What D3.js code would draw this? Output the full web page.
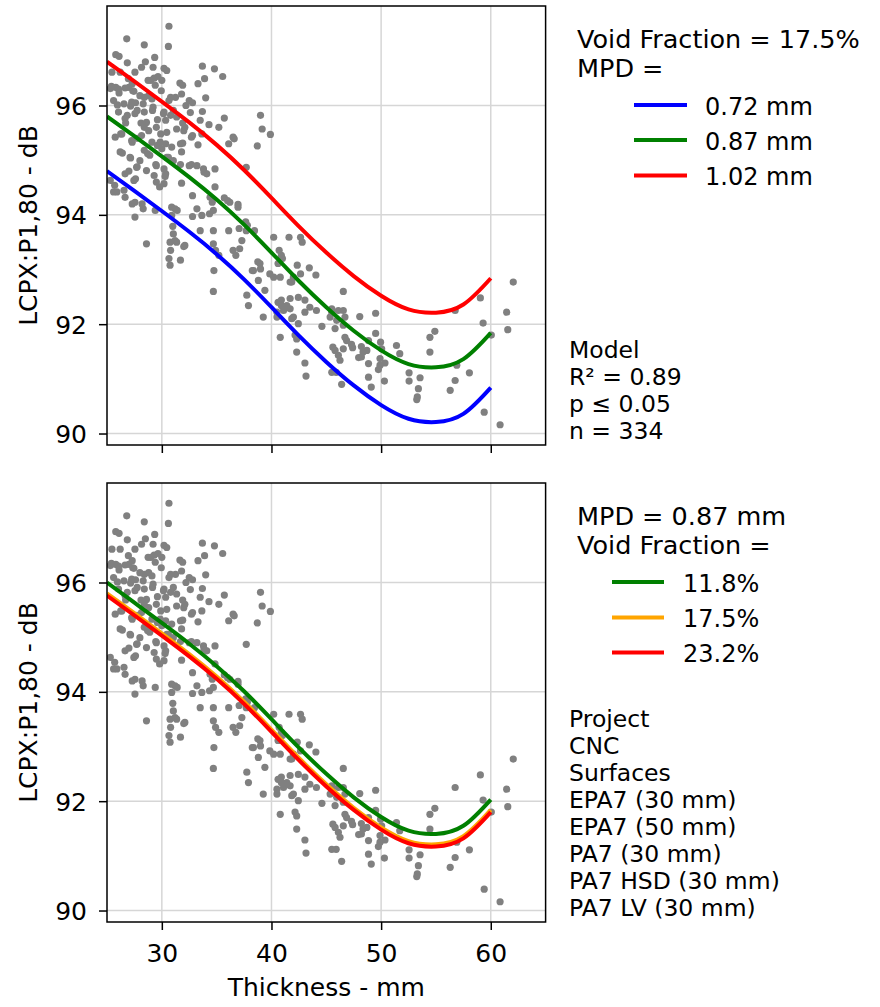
<!DOCTYPE html>
<html>
<head>
<meta charset="utf-8">
<script src="https://cdn.jsdelivr.net/npm/d3@7"></script>
<style>
  body { margin: 0; background: #fff; }
  svg text { font-family: "DejaVu Sans", sans-serif; fill: #000; }
</style>
</head>
<body>
<div id="chart"></div>
<script>

// model curves, sampled along thickness (mm)
var thickness = [25, 27.5, 30, 32.5, 35, 37.5, 40, 42.5, 45, 47.5, 50, 52.5, 55, 57.5, 60];

// top panel: void fraction 17.5 %, three MPD values
var mpd072 = [94.80, 94.44, 94.07, 93.69, 93.28, 92.82, 92.31, 91.79, 91.31, 90.88, 90.52, 90.27, 90.21, 90.36, 90.84];
var mpd087 = [95.80, 95.44, 95.07, 94.69, 94.28, 93.82, 93.31, 92.79, 92.31, 91.88, 91.52, 91.27, 91.21, 91.36, 91.84];
var mpd102 = [96.80, 96.44, 96.07, 95.69, 95.28, 94.82, 94.31, 93.79, 93.31, 92.88, 92.52, 92.27, 92.21, 92.36, 92.84];

// bottom panel: MPD 0.87 mm, three void fractions
var vf118 = [96.00, 95.63, 95.26, 94.88, 94.47, 94.01, 93.50, 92.98, 92.50, 92.07, 91.71, 91.46, 91.40, 91.55, 92.03];
var vf175 = [95.80, 95.44, 95.07, 94.69, 94.28, 93.82, 93.31, 92.79, 92.31, 91.88, 91.52, 91.27, 91.21, 91.36, 91.84];
var vf232 = [95.76, 95.40, 95.03, 94.65, 94.24, 93.78, 93.27, 92.75, 92.27, 91.84, 91.48, 91.23, 91.17, 91.32, 91.80];

var xTicks = [30, 40, 50, 60];
var yTicks = [90, 92, 94, 96];

var topTitle = ["Void Fraction = 17.5%", "MPD ="];
var topLabels = ["0.72 mm", "0.87 mm", "1.02 mm"];
var topNotes = ["Model", "R\u00b2 = 0.89", "p \u2264 0.05", "n = 334"];

var bottomTitle = ["MPD = 0.87 mm", "Void Fraction ="];
var bottomLabels = ["11.8%", "17.5%", "23.2%"];
var bottomNotes = ["Project", "CNC", "Surfaces", "EPA7 (30 mm)", "EPA7 (50 mm)", "PA7 (30 mm)", "PA7 HSD (30 mm)", "PA7 LV (30 mm)"];

// measured points [thickness, LCPX]
var samples = [
[30.65,97.45],[30.6,97.08],[26.8,97.22],[28.4,97.11],[25.8,96.93],[26.1,96.90],[29.35,96.88],[28.5,96.80],[26.85,96.78],[30.2,96.68],
[33.7,96.72],[34.8,96.67],[35.55,96.53],[33.9,96.49],[33.3,96.40],[31.65,96.41],[31.9,96.37],[29.3,96.50],[29.65,96.53],[29.0,96.46],
[29.95,96.27],[25.4,96.35],[25.8,96.33],[26.1,96.23],[27.3,96.40],[27.45,96.26],[27.0,96.33],[28.4,96.15],[28.8,96.18],[30.8,96.15],
[31.25,96.15],[30.65,96.09],[32.5,96.09],[32.8,96.05],[34.0,96.14],[25.95,96.01],[26.55,96.03],[27.15,95.99],[27.6,96.05],[27.75,95.91],
[28.4,95.88],[29.15,95.91],[30.2,95.88],[30.8,95.82],[33.7,95.89],[32.2,96.0],[32.6,95.87],[35.7,95.77],[39.0,95.82],[39.15,95.57],
[39.9,95.47],[26.85,95.82],[26.7,95.68],[28.1,95.68],[28.8,95.54],[29.6,95.74],[30.35,95.73],[31.9,95.68],[34.3,95.65],[35.2,95.60],
[26.25,95.48],[27.75,95.40],[29.9,95.48],[32.8,95.45],[36.6,95.39],[36.1,95.30],[38.7,95.26],[28.4,95.60],[32.0,95.54],
[25.3,96.31],[25.45,96.61],[26.2,96.61],[26.95,96.49],[27.55,96.61],[26.05,96.30],[26.65,96.32],[27.35,96.27],[28.0,96.18],[28.75,96.46],
[29.4,96.37],[30.0,96.46],[27.25,96.06],[28.3,96.03],[29.2,95.97],[30.15,95.85],[31.05,95.91],[26.05,95.88],[26.65,95.76],[27.55,95.85],
[28.6,95.69],[29.5,95.60],[30.45,95.51],[31.35,95.57],[26.35,95.48],[27.25,95.36],[28.15,95.45],[29.1,95.33],[30.0,95.21],[26.2,95.15],
[27.1,95.05],[28.0,94.99],[28.9,95.09],[29.5,94.90],[27.7,94.87],[28.6,94.81],[26.65,94.75],[25.75,95.42],[25.6,96.09],[29.1,96.12],
[30.45,96.64],[28.15,96.70],[29.2,96.70],[31.8,96.21],[31.35,95.79],[32.1,95.60],[33.5,95.73],[33.65,95.48],[29.85,95.33],[30.45,95.05],
[36.5,95.42],[33.3,95.28],[32.7,95.42],[31.9,95.31],[31.8,95.15],[30.9,95.24],[30.6,95.05],[31.05,94.99],[32.7,94.92],[33.2,94.90],
[33.8,94.84],[34.1,94.75],[34.85,94.84],[34.85,94.51],[34.4,94.32],[34.7,94.08],[34.35,94.02],[33.65,93.99],[33.2,94.11],[36.2,94.23],
[36.95,94.19],[37.3,93.53],[36.5,93.35],[37.1,93.38],[37.7,93.71],[38.45,93.71],[30.9,94.14],[30.9,93.99],[31.2,94.11],[31.8,94.58],
[30.3,94.70],[29.5,94.60],[29.8,94.51],[27.55,93.96],[28.3,94.11],[29.4,94.08],[27.55,94.23],[25.9,94.42],[26.65,94.32],[25.7,94.54],
[28.6,93.47],[30.75,93.50],[31.2,93.53],[32.1,93.44],[33.5,93.71],[34.7,93.71],
[27.3,95.33],[26.4,95.13],[27.15,95.04],[28.7,95.12],[28.4,95.18],[29.6,95.27],[30.35,95.30],[31.7,95.30],
[27.75,94.88],[27.0,94.80],[29.45,94.92],[30.2,94.84],[30.35,94.75],[31.7,94.92],[32.5,94.90],[33.85,94.78],[37.7,94.87],
[25.3,94.63],[25.6,94.42],[26.55,94.45],[27.45,94.63],[27.6,94.66],[29.3,94.72],[30.2,94.57],[32.8,94.35],[35.7,94.31],[36.0,94.26],
[34.6,94.23],[36.95,94.14],[27.3,94.20],[28.2,94.20],[31.4,94.08],[32.8,93.97],[37.65,93.87],[37.8,93.81],[37.05,93.75],[31.0,93.79],
[36.1,93.71],[32.0,93.42],[40.2,93.59],[41.6,93.59],[42.65,93.59],[42.8,93.50],[30.8,93.35],[30.65,93.20],[31.7,93.17],[30.75,93.08],
[34.9,93.35],[35.2,93.26],[36.75,93.26],[40.7,93.35],[41.0,93.20],[34.75,92.98],[38.25,92.98],[39.0,93.01],[38.75,93.14],[40.2,92.86],
[42.35,93.08],[42.65,92.92],
[31.05,93.65],[31.35,93.50],[34.7,93.47],[34.7,92.60],[37.75,92.53],[37.9,92.34],[38.95,93.11],[38.8,92.80],[39.4,92.62],[39.25,92.13],
[40.5,92.13],[40.8,91.76],[40.9,92.44],[41.4,92.34],[41.7,92.28],[42.0,92.13],[42.15,91.80],[42.3,91.49],[39.85,92.92],[40.6,93.11],
[41.85,92.77],
[40.9,93.26],[38.35,92.98],[40.8,92.86],[43.45,93.03],[44.05,92.90],[41.7,92.77],[42.0,92.86],[40.6,92.40],[40.9,92.34],[41.1,92.25],
[40.5,92.22],[41.7,92.47],[42.45,92.49],[43.05,92.44],[43.5,92.31],[44.1,92.25],[43.05,92.22],[41.85,92.10],[42.45,92.01],[44.6,91.96],
[45.5,92.28],[45.35,92.13],[45.95,92.07],[45.8,91.92],[46.55,92.25],[46.7,92.13],[46.55,91.98],[46.55,92.60],[48.05,92.14],[49.5,92.20],
[47.3,91.63],[42.3,91.73],[46.7,91.76],[46.85,91.70],[46.55,91.55],[45.8,91.52],[46.1,91.43],[45.6,91.58],[46.25,91.34],[47.4,91.57],
[48.2,91.59],[48.7,91.52],[47.95,91.39],[48.85,91.28],[49.5,91.83],[49.95,91.67],[50.05,91.55],[49.9,91.37],[49.9,91.25],[49.75,91.17],
[51.4,91.61],[51.7,91.46],[48.85,91.03],[49.1,90.85],[50.3,90.96],[52.55,91.11],[52.55,90.96],[53.55,91.02],[53.4,90.82],[53.3,90.67],
[53.25,90.62],[54.45,91.76],[54.9,91.87],[54.45,91.49],[56.9,91.25],[56.75,90.97],[56.3,90.79],[58.05,91.11],[56.75,92.25],[59.05,92.48],
[59.3,92.02],[60.05,91.80],[59.4,90.39],[60.85,90.16],[62.05,92.77],[61.45,92.22],[61.55,91.90],[43.05,91.29],[43.15,91.05],[46.4,90.90],
[45.9,91.12],[45.5,91.12],[50.35,91.29],[48.85,91.70],[48.35,91.49],[48.2,91.40],[45.5,92.22],[46.1,92.25]
];

// page layout
var W = 880, H = 1007;
var plotLeft = 107, plotRight = 545.6, plotH = 439;
var panelTops = [6, 483];

var svg = d3.select("#chart").append("svg")
  .attr("width", W)
  .attr("height", H);

var x = d3.scaleLinear().domain([25, 65]).range([plotLeft, plotRight]);

var panels = [
  {
    top: panelTops[0],
    series: [
      {label: topLabels[0], color: "#0000ff", values: mpd072},
      {label: topLabels[1], color: "#008000", values: mpd087},
      {label: topLabels[2], color: "#ff0000", values: mpd102}
    ],
    title: topTitle,
    titleY: [48, 77],
    lineX: [634, 687], textX: 705, rowY: [105, 140, 175.5],
    notes: topNotes, notesY: 358,
    showXLabels: false
  },
  {
    top: panelTops[1],
    series: [
      {label: bottomLabels[0], color: "#008000", values: vf118},
      {label: bottomLabels[1], color: "#ffa500", values: vf175},
      {label: bottomLabels[2], color: "#ff0000", values: vf232}
    ],
    title: bottomTitle,
    titleY: [525, 554],
    lineX: [612, 664], textX: 683, rowY: [582, 617.5, 652.5],
    notes: bottomNotes, notesY: 727,
    showXLabels: true
  }
];

panels.forEach(function(p, idx) {
  var y = d3.scaleLinear().domain([89.79, 97.82]).range([p.top + plotH, p.top]);
  var g = svg.append("g");

  // clip for the plot area
  g.append("clipPath").attr("id", "clip" + idx)
    .append("rect")
    .attr("x", plotLeft).attr("y", p.top)
    .attr("width", plotRight - plotLeft).attr("height", plotH);

  // grid
  g.selectAll(".gx").data(xTicks).enter().append("line")
    .attr("x1", function(d) { return x(d); }).attr("x2", function(d) { return x(d); })
    .attr("y1", p.top).attr("y2", p.top + plotH)
    .attr("stroke", "#d6d6d6").attr("stroke-width", 1.5);
  g.selectAll(".gy").data(yTicks).enter().append("line")
    .attr("x1", plotLeft).attr("x2", plotRight)
    .attr("y1", function(d) { return y(d); }).attr("y2", function(d) { return y(d); })
    .attr("stroke", "#d6d6d6").attr("stroke-width", 1.5);

  var plot = g.append("g").attr("clip-path", "url(#clip" + idx + ")");

  // scatter
  plot.selectAll("circle").data(samples).enter().append("circle")
    .attr("cx", function(d) { return x(d[0]); })
    .attr("cy", function(d) { return y(d[1]); })
    .attr("r", 3.6)
    .attr("fill", "#808080");

  // model curves
  var line = d3.line()
    .x(function(d) { return x(d[0]); })
    .y(function(d) { return y(d[1]); })
    .curve(d3.curveNatural);

  p.series.forEach(function(s) {
    plot.append("path")
      .datum(thickness.map(function(t, i) { return [t, s.values[i]]; }))
      .attr("d", line)
      .attr("fill", "none")
      .attr("stroke", s.color)
      .attr("stroke-width", 4);
  });

  // axes
  var yAxis = g.append("g")
    .attr("transform", "translate(" + plotLeft + ",0)")
    .call(d3.axisLeft(y).tickValues(yTicks).tickSize(8).tickPadding(12));
  var xAxis = g.append("g")
    .attr("transform", "translate(0," + (p.top + plotH) + ")")
    .call(d3.axisBottom(x).tickValues(xTicks).tickSize(8).tickPadding(14)
      .tickFormat(p.showXLabels ? d3.format("d") : function() { return ""; }));

  [yAxis, xAxis].forEach(function(a) {
    a.select(".domain").remove();
    a.selectAll(".tick line").attr("stroke", "#000").attr("stroke-width", 1.5);
    a.selectAll(".tick text").style("font-size", "25px").style("font-family", "DejaVu Sans");
  });
  yAxis.selectAll(".tick text").attr("dy", "0.36em");

  // frame
  g.append("rect")
    .attr("x", plotLeft).attr("y", p.top)
    .attr("width", plotRight - plotLeft).attr("height", plotH)
    .attr("fill", "none").attr("stroke", "#000").attr("stroke-width", 1.5);

  // y label
  g.append("text")
    .attr("transform", "translate(37," + (p.top + plotH / 2) + ") rotate(-90)")
    .attr("text-anchor", "middle")
    .style("font-size", "25px")
    .text("LCPX:P1,80 - dB");

  // legend title
  p.title.forEach(function(t, i) {
    g.append("text").attr("x", 577).attr("y", p.titleY[i])
      .style("font-size", "25.5px").text(t);
  });

  // legend rows
  p.series.forEach(function(s, i) {
    g.append("line")
      .attr("x1", p.lineX[0]).attr("x2", p.lineX[1])
      .attr("y1", p.rowY[i]).attr("y2", p.rowY[i])
      .attr("stroke", s.color).attr("stroke-width", 4);
    g.append("text").attr("x", p.textX).attr("y", p.rowY[i] + 9.5)
      .style("font-size", "24px").text(s.label);
  });

  // notes block
  p.notes.forEach(function(t, i) {
    g.append("text").attr("x", 569).attr("y", p.notesY + i * 27)
      .style("font-size", "23.5px").text(t);
  });
});

// x label
svg.append("text")
  .attr("x", (plotLeft + plotRight) / 2).attr("y", 996)
  .attr("text-anchor", "middle")
  .style("font-size", "25px")
  .text("Thickness - mm");

</script>
</body>
</html>
